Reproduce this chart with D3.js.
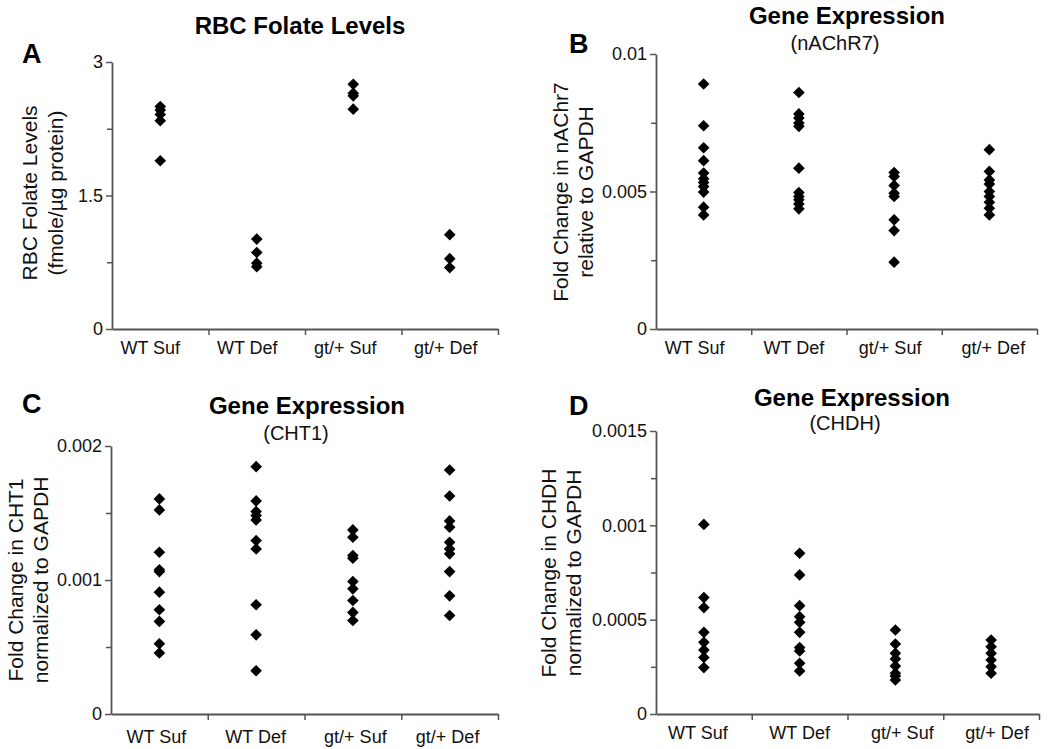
<!DOCTYPE html>
<html>
<head>
<meta charset="utf-8">
<script src="https://cdn.jsdelivr.net/npm/d3@7"></script>
<style>
  html, body { margin: 0; padding: 0; background: #fff; }
  svg { display: block; font-family: Arial, "Liberation Sans", sans-serif; }
</style>
</head>
<body>
<svg id="chart" width="1050" height="749"></svg>
<script>
// ---------- data ----------
const categories = ["WT Suf", "WT Def", "gt/+ Suf", "gt/+ Def"];

// Panel A: RBC folate levels (fmole/µg protein)
const folateLevels = [
  [2.50, 2.46, 2.41, 2.34, 1.89],
  [1.01, 0.86, 0.74, 0.70],
  [2.75, 2.65, 2.62, 2.47],
  [1.06, 0.79, 0.69]
];
const folateTicks = [0, 1.5, 3];
const folateMinor = [0.75, 2.25];
const folateTickLabels = ["0", "1.5", "3"];

// Panel B: nAChR7 expression
const nachrValues = [
  [0.00891, 0.00739, 0.00659, 0.00612, 0.00567, 0.00546, 0.00533, 0.00518, 0.00498, 0.00443, 0.00415],
  [0.00860, 0.00782, 0.00767, 0.00749, 0.00737, 0.00585, 0.00496, 0.00482, 0.00470, 0.00455, 0.00437],
  [0.00569, 0.00555, 0.00522, 0.00494, 0.00482, 0.00397, 0.00358, 0.00243],
  [0.00652, 0.00573, 0.00542, 0.00527, 0.00500, 0.00482, 0.00461, 0.00439, 0.00415]
];
const nachrTicks = [0, 0.005, 0.01];
const nachrMinor = [0.0025, 0.0075];
const nachrTickLabels = ["0", "0.005", "0.01"];

// Panel C: CHT1 expression
const cht1Values = [
  [0.001605, 0.001523, 0.001207, 0.001076, 0.001063, 0.000909, 0.000778, 0.000691, 0.000524, 0.000455],
  [0.001846, 0.001590, 0.001511, 0.001481, 0.001448, 0.001294, 0.001232, 0.000815, 0.000591, 0.000323],
  [0.001374, 0.001319, 0.001183, 0.001163, 0.000989, 0.000934, 0.000847, 0.000758, 0.000698],
  [0.001821, 0.001627, 0.001441, 0.001394, 0.001282, 0.001232, 0.001195, 0.001063, 0.000882, 0.000735]
];
const cht1Ticks = [0, 0.001, 0.002];
const cht1Minor = [0.0005, 0.0015];
const cht1TickLabels = ["0", "0.001", "0.002"];

// Panel D: CHDH expression
const chdhValues = [
  [0.001005, 0.000617, 0.000564, 0.000433, 0.000380, 0.000339, 0.000300, 0.000246],
  [0.000852, 0.000737, 0.000574, 0.000516, 0.000486, 0.000433, 0.000352, 0.000334, 0.000269, 0.000228],
  [0.000445, 0.000371, 0.000322, 0.000292, 0.000254, 0.000216, 0.000201, 0.000180],
  [0.000392, 0.000357, 0.000322, 0.000286, 0.000251, 0.000216]
];
const chdhTicks = [0, 0.0005, 0.001, 0.0015];
const chdhMinor = [0.00025, 0.00075, 0.00125];
const chdhTickLabels = ["0", "0.0005", "0.001", "0.0015"];

// ---------- drawing ----------
const svg = d3.select("#chart");
const AXIS = "#555";
const TEXT = "#111";
const FONT = "Arial, 'Liberation Sans', sans-serif";

function panel(cfg) {
  const g = svg.append("g");
  const x = d3.scaleLinear().domain([0, categories.length]).range([cfg.left, cfg.right]);
  const y = d3.scaleLinear().domain([0, cfg.max]).range([cfg.bottom, cfg.top]);

  // minor y ticks
  g.append("g").attr("transform", `translate(${cfg.left},0)`)
    .call(d3.axisLeft(y).tickValues(cfg.minor).tickSize(5).tickSizeOuter(0).tickFormat(""))
    .call(a => a.select(".domain").remove())
    .call(a => a.selectAll("line").attr("stroke", AXIS).attr("stroke-width", 1.5));

  // major y axis
  g.append("g").attr("transform", `translate(${cfg.left},0)`)
    .call(d3.axisLeft(y).tickValues(cfg.ticks).tickSize(6).tickSizeOuter(0).tickPadding(3)
      .tickFormat((d, i) => cfg.tickLabels[i]))
    .attr("font-family", FONT).attr("font-size", 18)
    .call(a => a.select(".domain").attr("stroke", AXIS).attr("stroke-width", 1.8))
    .call(a => a.selectAll("line").attr("stroke", AXIS).attr("stroke-width", 1.5))
    .call(a => a.selectAll("text").attr("fill", TEXT));

  // x axis with boundary ticks
  g.append("g").attr("transform", `translate(0,${cfg.bottom})`)
    .call(d3.axisBottom(x).tickValues([1, 2, 3, 4]).tickSize(6).tickSizeOuter(0).tickFormat(""))
    .call(a => a.select(".domain").attr("stroke", AXIS).attr("stroke-width", 1.8))
    .call(a => a.selectAll("line").attr("stroke", AXIS).attr("stroke-width", 1.5));

  // category labels
  g.append("g").attr("font-family", FONT).attr("font-size", 18)
    .selectAll("text").data(categories).enter().append("text")
    .attr("x", (c, i) => x(i + 0.5) + cfg.labelShift[i])
    .attr("y", cfg.bottom + cfg.labelPad)
    .attr("dy", "0.71em")
    .attr("text-anchor", "middle")
    .attr("fill", TEXT)
    .text(c => c);

  // points
  const diamond = d3.symbol(d3.symbolSquare, 68);
  cfg.values.forEach((vals, i) => {
    g.selectAll(null).data(vals).enter().append("path")
      .attr("d", diamond)
      .attr("fill", "#000")
      .attr("transform", d => `translate(${x(i + 0.5)},${y(d)}) rotate(45)`);
  });

  // title
  g.append("text").attr("x", cfg.titleX).attr("y", cfg.titleY)
    .attr("text-anchor", "middle").attr("font-size", 24).attr("font-weight", "bold")
    .attr("fill", "#000").text(cfg.title);
  if (cfg.subtitle) {
    g.append("text").attr("x", cfg.subX).attr("y", cfg.subY)
      .attr("text-anchor", "middle").attr("font-size", 20)
      .attr("fill", TEXT).text(cfg.subtitle);
  }
  // panel letter
  g.append("text").attr("x", cfg.letterX).attr("y", cfg.letterY)
    .attr("font-size", 27).attr("font-weight", "bold").attr("fill", "#000").text(cfg.letter);

  // y label (two lines, rotated)
  cfg.ylabel.forEach((line, k) => {
    g.append("text")
      .attr("transform", `translate(${cfg.ylabX[k]},${cfg.ylabY}) rotate(-90)`)
      .attr("text-anchor", "middle").attr("dominant-baseline", "central")
      .attr("font-size", 21).attr("fill", TEXT).text(line);
  });
}

panel({
  values: folateLevels, max: 3, ticks: folateTicks, minor: folateMinor, tickLabels: folateTickLabels,
  left: 112, right: 498, top: 62, bottom: 329, labelPad: 12, labelShift: [-10, -9.5, -8, -4],
  title: "RBC Folate Levels", titleX: 300, titleY: 34,
  letter: "A", letterX: 22, letterY: 63,
  ylabel: ["RBC Folate Levels", "(fmole/\u00b5g protein)"], ylabX: [29, 55], ylabY: 193
});

panel({
  values: nachrValues, max: 0.01, ticks: nachrTicks, minor: nachrMinor, tickLabels: nachrTickLabels,
  left: 656, right: 1037, top: 54, bottom: 329, labelPad: 12, labelShift: [-9, -5, -4, 4],
  title: "Gene Expression", titleX: 847, titleY: 24,
  subtitle: "(nAChR7)", subX: 835, subY: 50,
  letter: "B", letterX: 569, letterY: 53,
  ylabel: ["Fold Change in nAChr7", "relative to GAPDH"], ylabX: [560, 585], ylabY: 192
});

panel({
  values: cht1Values, max: 0.002, ticks: cht1Ticks, minor: cht1Minor, tickLabels: cht1TickLabels,
  left: 111, right: 498, top: 446, bottom: 714, labelPad: 16, labelShift: [-3, -0.5, 2.5, -2],
  title: "Gene Expression", titleX: 307, titleY: 414,
  subtitle: "(CHT1)", subX: 296, subY: 440,
  letter: "C", letterX: 22, letterY: 413,
  ylabel: ["Fold Change in CHT1", "normalized to GAPDH"], ylabX: [15, 40], ylabY: 580
});

panel({
  values: chdhValues, max: 0.0015, ticks: chdhTicks, minor: chdhMinor, tickLabels: chdhTickLabels,
  left: 656, right: 1039, top: 431, bottom: 714, labelPad: 12, labelShift: [-6, 0, 7, 6],
  title: "Gene Expression", titleX: 852, titleY: 406,
  subtitle: "(CHDH)", subX: 845, subY: 430,
  letter: "D", letterX: 569, letterY: 415,
  ylabel: ["Fold Change in CHDH", "normalized to GAPDH"], ylabX: [548, 573], ylabY: 573
});
</script>
</body>
</html>
